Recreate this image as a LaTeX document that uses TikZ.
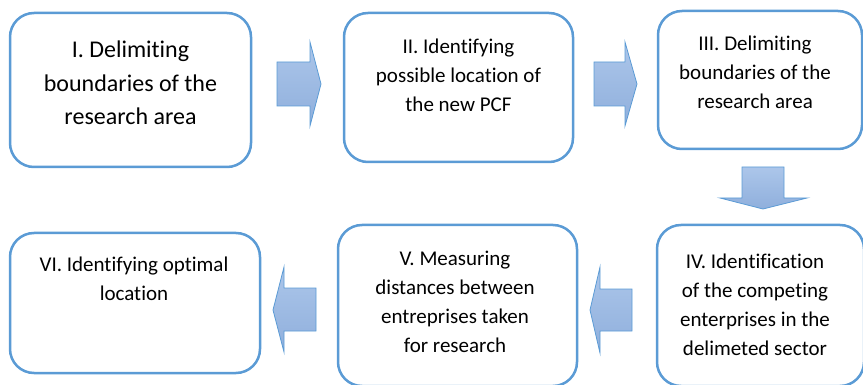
\documentclass[tikz,border=0pt]{standalone}
\usepackage{fontspec}
\setmainfont{Carlito}[Ligatures=NoCommon]
\definecolor{stageblue}{HTML}{5B9BD5}
\definecolor{arrowtop}{HTML}{ACC6EA}
\definecolor{arrowbot}{HTML}{8FAFDC}
\tikzstyle{stage}=[draw=stageblue,line width=2.5pt,rounded corners=24pt,fill=white,inner sep=0pt]
\tikzstyle{stagetext}=[align=center,anchor=north,inner sep=0pt,font=\fontsize{21}{29}\selectfont]
\tikzstyle{blockarrow}=[draw=stageblue,line width=0.8pt,line join=miter,top color=arrowtop,bottom color=arrowbot]

\begin{document}
\begin{tikzpicture}[x=1pt,y=-1pt]
  \clip (0,0) rectangle (863,385);
  % stages
  \node[stage,minimum width=241pt,minimum height=154pt] (s1) at (130.5,90) {};
  \node[stage,minimum width=229pt,minimum height=149pt] (s2) at (458.5,87.5) {};
  \node[stage,minimum width=204pt,minimum height=138pt] (s3) at (760,80) {};
  \node[stage,minimum width=207pt,minimum height=161pt] (s4) at (760.5,305.5) {};
  \node[stage,minimum width=239pt,minimum height=161pt] (s5) at (457.5,305.5) {};
  \node[stage,minimum width=250pt,minimum height=140pt] (s6) at (135,303) {};
  % texts
  \node[stagetext,font=\fontsize{24}{33.5}\selectfont] (t1) at (130.5,41)
    {I. Delimiting\\boundaries of the\\research area};
  \node[stagetext] (t2) at (458.5,39) {II. Identifying\\possible location of\\the new PCF};
  \node[stagetext] (t3) at (755,36) {III. Delimiting\\boundaries of the\\research area};
  \node[stagetext] (t4) at (755,254) {IV. Identification\\of the competing\\enterprises in the\\delimeted sector};
  \node[stagetext] (t5) at (455,251) {V. Measuring\\distances between\\entreprises taken\\for research};
  \node[stagetext] (t6) at (134,257) {VI. Identifying optimal\\location};
  % block arrows between the stages
  \draw[blockarrow] (277,62) -- (310,62) -- (310,42) -- (321,84) -- (310,126) -- (310,106) -- (277,106) -- cycle;
  \draw[blockarrow] (594,62) -- (625,62) -- (625,42) -- (637,84) -- (625,126) -- (625,106) -- (594,106) -- cycle;
  \draw[blockarrow] (742,167) -- (784,167) -- (784,198) -- (807,198) -- (763,209) -- (720,198) -- (742,198) -- cycle;
  \draw[blockarrow] (632,289) -- (600,289) -- (600,267) -- (590,310) -- (600,353) -- (600,331) -- (632,331) -- cycle;
  \draw[blockarrow] (316,288) -- (284,288) -- (284,267) -- (273,310) -- (284,352) -- (284,331) -- (316,331) -- cycle;
\end{tikzpicture}
\end{document}
